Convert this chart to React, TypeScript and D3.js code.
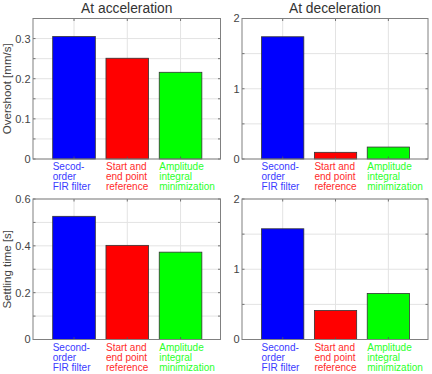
import * as d3 from 'd3';

const categories = [
  ['Secod-', 'order', 'FIR filter'],
  ['Start and', 'end point', 'reference'],
  ['Amplitude', 'integral', 'minimization'],
];
const categories2 = [
  ['Second-', 'order', 'FIR filter'],
  ['Start and', 'end point', 'reference'],
  ['Amplitude', 'integral', 'minimization'],
];
const barColors = ['#0000ff', '#ff0000', '#00ff00'];
const textColors = ['#3a3aff', '#ff2a2a', '#2aff2a'];

const overshootAccel = [0.305, 0.251, 0.216];
const overshootDecel = [1.74, 0.095, 0.17];
const settlingAccel = [0.526, 0.402, 0.373];
const settlingDecel = [1.576, 0.413, 0.655];

const titles = ['At acceleration', 'At deceleration'];
const yLabels = ['Overshoot [mm/s]', 'Settling time [s]'];

const FONT = '"Liberation Sans", Arial, sans-serif';

type PanelProps = {
  values: number[];
  labels: string[][];
  left: number;
  right: number;
  top: number;
  bottom: number;
  yMax: number;
  gridStep: number;
  labelTicks: number[];
  fmt: (v: number) => string;
  title?: string;
  yLabel?: string;
};

function Panel({ values, labels, left, right, top, bottom, yMax, gridStep, labelTicks, fmt, title, yLabel }: PanelProps) {
  const x = d3.scaleLinear([0.23, 3.75], [left, right]);
  const y = d3.scaleLinear([0, yMax], [bottom, top]);
  const bw = (x(2) - x(1)) * 0.8;
  const grid = d3.range(0, yMax + 1e-9, gridStep);
  const cats = [1, 2, 3];
  return (
    <g>
      <rect x={left} y={top} width={right - left} height={bottom - top} fill="white" />
      {grid.map((g, i) => (
        <line key={'h' + i} x1={left} x2={right} y1={y(g)} y2={y(g)} stroke="#e3e3e3" strokeWidth={1} />
      ))}
      {cats.map((c) => (
        <line key={'v' + c} x1={x(c)} x2={x(c)} y1={top} y2={bottom} stroke="#e3e3e3" strokeWidth={1} />
      ))}
      {values.map((v, i) => (
        <rect
          key={'b' + i}
          x={x(i + 1) - bw / 2}
          y={y(v)}
          width={bw}
          height={y(0) - y(v)}
          fill={barColors[i]}
          stroke="#333"
          strokeWidth={0.8}
        />
      ))}
      {/* tick marks, inside, mirrored */}
      {grid.map((g, i) => (
        <g key={'t' + i} stroke="#555" strokeWidth={0.8}>
          <line x1={left} x2={left + 2.5} y1={y(g)} y2={y(g)} />
          <line x1={right} x2={right - 2.5} y1={y(g)} y2={y(g)} />
        </g>
      ))}
      {cats.map((c) => (
        <g key={'tx' + c} stroke="#555" strokeWidth={0.8}>
          <line x1={x(c)} x2={x(c)} y1={bottom} y2={bottom - 2.5} />
          <line x1={x(c)} x2={x(c)} y1={top} y2={top + 2.5} />
        </g>
      ))}
      <rect x={left} y={top} width={right - left} height={bottom - top} fill="none" stroke="#808080" strokeWidth={1} />
      {labelTicks.map((t) => (
        <text key={'l' + t} x={left - 2.5} y={y(t)} dy="0.36em" textAnchor="end" fontSize={11} fill="#444" fontFamily={FONT}>
          {fmt(t)}
        </text>
      ))}
      {labels.map((lines, i) => (
        <text key={'c' + i} x={x(i + 1) - bw / 2} y={bottom + 11} fontSize={10} fill={textColors[i]} fontFamily={FONT}>
          {lines.map((s, j) => (
            <tspan key={j} x={x(i + 1) - bw / 2} dy={j === 0 ? 0 : 10}>
              {s}
            </tspan>
          ))}
        </text>
      ))}
      {title && (
        <text x={(left + right) / 2} y={top - 5.5} textAnchor="middle" fontSize={13.8} fill="#333" fontFamily={FONT}>
          {title}
        </text>
      )}
      {yLabel && (
        <text
          transform={`translate(11,${(top + bottom) / 2}) rotate(-90)`}
          textAnchor="middle"
          fontSize={11.5}
          fill="#444"
          fontFamily={FONT}
        >
          {yLabel}
        </text>
      )}
    </g>
  );
}

function App() {
  const L = [33, 220.5];
  const R = [242, 428];
  const T = [18.5, 159];
  const B = [199, 339.5];
  const f1 = (v: number) => (v === 0 ? '0' : d3.format('.1f')(v));
  const f0 = (v: number) => d3.format('d')(v);
  return (
    <svg width={432} height={374} style={{ position: 'absolute', left: 0, top: 0, background: 'white' }}>
      <Panel values={overshootAccel} labels={categories} left={L[0]} right={L[1]} top={T[0]} bottom={T[1]}
        yMax={0.35} gridStep={0.05} labelTicks={[0, 0.1, 0.2, 0.3]} fmt={f1} title={titles[0]} yLabel={yLabels[0]} />
      <Panel values={overshootDecel} labels={categories2} left={R[0]} right={R[1]} top={T[0]} bottom={T[1]}
        yMax={2} gridStep={0.5} labelTicks={[0, 1, 2]} fmt={f0} title={titles[1]} />
      <Panel values={settlingAccel} labels={categories2} left={L[0]} right={L[1]} top={B[0]} bottom={B[1]}
        yMax={0.6} gridStep={0.1} labelTicks={[0, 0.2, 0.4, 0.6]} fmt={f1} yLabel={yLabels[1]} />
      <Panel values={settlingDecel} labels={categories2} left={R[0]} right={R[1]} top={B[0]} bottom={B[1]}
        yMax={2} gridStep={0.5} labelTicks={[0, 1, 2]} fmt={f0} />
    </svg>
  );
}

export default App;
